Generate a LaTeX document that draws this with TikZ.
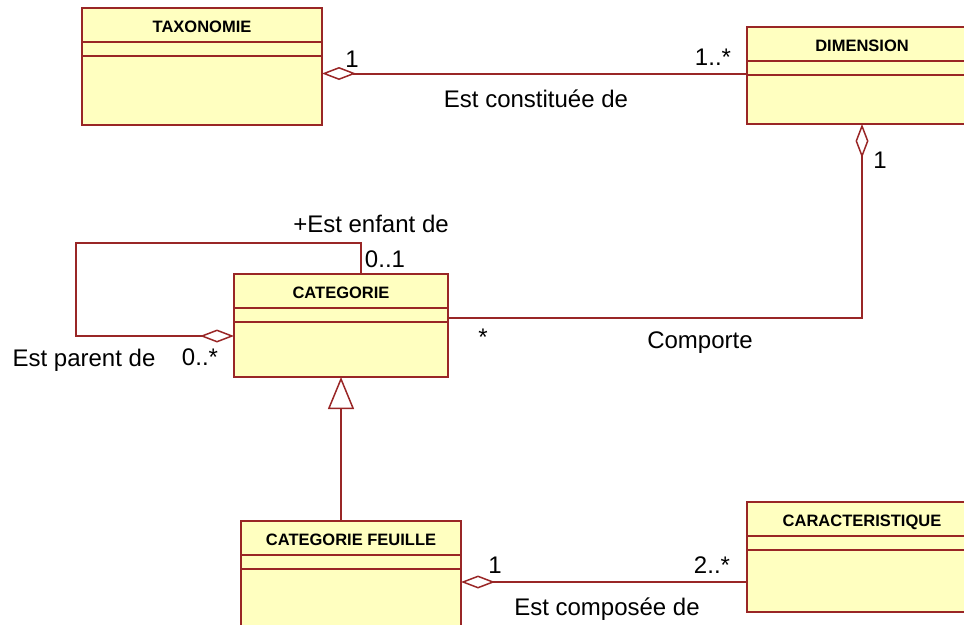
\documentclass[tikz,border=0pt]{standalone}
\usepackage{fontspec}
\setmainfont{Liberation Sans}
\usetikzlibrary{arrows.meta}
\usetikzlibrary{calc}
\definecolor{classline}{RGB}{153,38,38}
\definecolor{classfill}{RGB}{255,255,192}
% header and attribute bars of a class box
\newcommand{\classbars}[1]{%
\path ($(#1.north west)+(0,34)$) -- ($(#1.north east)+(0,34)$) [draw, class_bar];
\path ($(#1.north west)+(0,48)$) -- ($(#1.north east)+(0,48)$) [draw, class_bar];}

\begin{document}
\begin{tikzpicture}[x=1pt,y=-1pt]
\tikzstyle{class_box}=[rectangle,draw=classline,fill=classfill,line width=2pt,inner sep=0pt,outer sep=0pt];
\tikzstyle{class_bar}=[classline,line width=2pt];
\tikzstyle{class_title}=[anchor=base,inner sep=0pt,font=\fontsize{16.5}{20}\selectfont\bfseries];
\tikzstyle{assoc_label}=[anchor=base,inner sep=0pt,font=\fontsize{24}{28}\selectfont];
\tikzstyle{assoc}=[classline,line width=2pt];
\tikzstyle{aggregation}=[{Diamond[open,length=34pt,width=13pt,line width=1.5pt]}-];
\tikzstyle{generalization}=[{Triangle[open,length=32pt,width=26pt,line width=1.5pt]}-];
\useasboundingbox (0,0) rectangle (964,624);
\clip (0,0) rectangle (964,624);
\coordinate (taxonomie_c) at (202,66.5);
\coordinate (dimension_c) at (862,75.5);
\coordinate (categorie_c) at (341,325.5);
\coordinate (feuille_c) at (351,586);
\coordinate (caract_c) at (862,557);
\coordinate (tax_mult) at (352,67);
\coordinate (dim_mult) at (713,65);
\coordinate (constituee) at (536,107);
\coordinate (dim_cat_mult) at (880,168);
\coordinate (enfant) at (371,232);
\coordinate (enfant_mult) at (385,267);
\coordinate (parent) at (84,366);
\coordinate (parent_mult) at (200,365);
\coordinate (cat_mult) at (483,345);
\coordinate (comporte) at (700,348);
\coordinate (feuille_mult) at (495,573);
\coordinate (caract_mult) at (712,573);
\coordinate (composee) at (607,615);
\node (taxonomie) at (taxonomie_c) [class_box, minimum width=240pt, minimum height=117pt] {};
\node (dimension) at (dimension_c) [class_box, minimum width=230pt, minimum height=97pt] {};
\node (categorie) at (categorie_c) [class_box, minimum width=214pt, minimum height=103pt] {};
\node (feuille) at (feuille_c) [class_box, minimum width=220pt, minimum height=130pt] {};
\node (caract) at (caract_c) [class_box, minimum width=230pt, minimum height=110pt] {};
\classbars{taxonomie}
\classbars{dimension}
\classbars{categorie}
\classbars{feuille}
\classbars{caract}
\coordinate (dim_in) at ([yshift=2pt]dimension.west);
\coordinate (cat_in) at ([yshift=8pt]categorie.east);
\coordinate (cat_parent) at ([yshift=-10.5pt]categorie.west);
\coordinate (cat_child) at ([xshift=20pt]categorie.north);
\coordinate (caract_in) at ([yshift=-25pt]caract.west);
\node (taxonomie_title) at ($(taxonomie.north)+(0,24)$) [class_title] {TAXONOMIE};
\node (dimension_title) at ($(dimension.north)+(0,24)$) [class_title] {DIMENSION};
\node (categorie_title) at ($(categorie.north)+(0,24)$) [class_title] {CATEGORIE};
\node (feuille_title) at ($(feuille.north)+(0,24)$) [class_title] {CATEGORIE FEUILLE};
\node (caract_title) at ($(caract.north)+(0,24)$) [class_title] {CARACTERISTIQUE};
\node (tax_mult_label) at (tax_mult) [assoc_label] {1};
\node (dim_mult_label) at (dim_mult) [assoc_label] {1..*};
\node (constituee_label) at (constituee) [assoc_label] {Est constituée de};
\node (dim_cat_mult_label) at (dim_cat_mult) [assoc_label] {1};
\node (enfant_label) at (enfant) [assoc_label] {+Est enfant de};
\node (enfant_mult_label) at (enfant_mult) [assoc_label] {0..1};
\node (parent_label) at (parent) [assoc_label] {Est parent de};
\node (parent_mult_label) at (parent_mult) [assoc_label] {0..*};
\node (cat_mult_label) at (cat_mult) [assoc_label] {*};
\node (comporte_label) at (comporte) [assoc_label] {Comporte};
\node (feuille_mult_label) at (feuille_mult) [assoc_label] {1};
\node (caract_mult_label) at (caract_mult) [assoc_label] {2..*};
\node (composee_label) at (composee) [assoc_label] {Est composée de};
\path (taxonomie.east |- dim_in) -- (dim_in) [draw, assoc, aggregation];
\path (dimension.south) |- (cat_in) [draw, assoc, aggregation];
\path (cat_parent) -- ++(-158,0) |- ([yshift=31pt]cat_child) -- (cat_child) [draw, assoc, aggregation];
\path (categorie.south) -- (categorie.south |- feuille.north) [draw, assoc, generalization];
\path (feuille.east |- caract_in) -- (caract_in) [draw, assoc, aggregation];
\end{tikzpicture}
\end{document}
